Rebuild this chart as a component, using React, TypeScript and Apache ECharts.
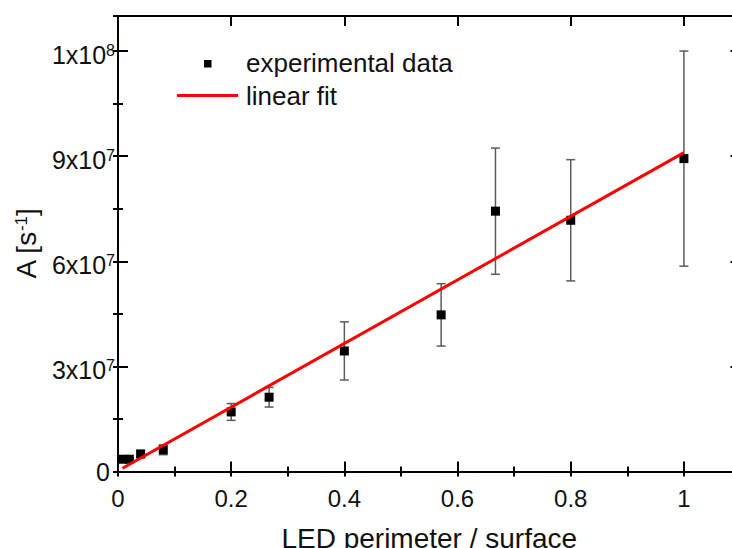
import React, { useEffect, useRef } from "react";
import * as echarts from "echarts";

// ---- data ----
const X_VALUES = [0.008, 0.02, 0.04, 0.08, 0.2, 0.267, 0.4, 0.571, 0.667, 0.8, 1.0];
const Y_VALUES = [3.5e6, 3.5e6, 5.0e6, 6.2e6, 1.7e7, 2.12e7, 3.44e7, 4.47e7, 7.43e7, 7.17e7, 8.93e7];
const Y_ERRORS = [0.5e6, 0.5e6, 1.0e6, 1.4e6, 2.4e6, 2.8e6, 8.3e6, 8.9e6, 1.8e7, 1.73e7, 3.07e7];
const FIT_X = [0.008, 1.0];
const FIT_Y = [9.3e5, 9.1e7];

const X_TICKS = [0, 0.2, 0.4, 0.6, 0.8, 1.0];
const X_TICK_LABELS = ["0", "0.2", "0.4", "0.6", "0.8", "1"];
const Y_TICKS = [0, 3e7, 6e7, 9e7, 1.2e8];
const Y_TICK_BASES = ["0", "3x10", "6x10", "9x10", "1x10"];
const Y_TICK_EXPONENTS = ["", "7", "7", "7", "8"];

const SERIES_NAMES = ["experimental data", "linear fit"];
const X_NAME = "LED perimeter / surface";

const FONT = '"Liberation Sans", Arial, Helvetica, sans-serif';
const TEXT = "#111";

export default function App() {
  const ref = useRef<HTMLDivElement>(null);

  useEffect(() => {
    if (!ref.current) return;
    const chart = echarts.init(ref.current, null, { renderer: "svg" });

    const errData = X_VALUES.map((x, i) => [x, Y_VALUES[i] - Y_ERRORS[i], Y_VALUES[i] + Y_ERRORS[i]]);
    const pts = X_VALUES.map((x, i) => [x, Y_VALUES[i]]);
    const fit = FIT_X.map((x, i) => [x, FIT_Y[i]]);

    const axisLine = { show: true, onZero: false, lineStyle: { color: "#000", width: 2 } };
    const majorTick = { show: true, inside: true, length: 10, lineStyle: { color: "#000", width: 2 } };
    const minorTick = { show: true, inside: true, length: 5, lineStyle: { color: "#000", width: 2 } };

    const xFmt = (v: number) => {
      const i = X_TICKS.findIndex((t) => Math.abs(t - v) < 1e-6);
      return i >= 0 ? X_TICK_LABELS[i] : "";
    };
    const yFmt = (v: number) => {
      const i = Y_TICKS.findIndex((t) => Math.abs(t - v) < 1);
      if (i < 0) return "";
      if (!Y_TICK_EXPONENTS[i]) return `{z|${Y_TICK_BASES[i]}}`;
      return `{b|${Y_TICK_BASES[i]}}{s|${Y_TICK_EXPONENTS[i]}}`;
    };

    const xBase = { type: "value", min: 0, max: 1.1, splitLine: { show: false } };
    const yBase = { type: "value", min: 0, max: 1.3e8, splitLine: { show: false } };

    chart.setOption({
      animation: false,
      backgroundColor: "#fff",
      textStyle: { fontFamily: FONT },
      grid: { left: 118, top: 16, right: 0.5, bottom: 76.5, containLabel: false, outerBoundsMode: "none" },
      xAxis: [
        {
          ...xBase,
          position: "bottom",
          interval: 0.2,
          axisLine,
          axisTick: majorTick,
          axisLabel: { show: true, margin: 15, fontSize: 24, color: TEXT, fontFamily: FONT, formatter: xFmt },
          name: X_NAME,
          nameLocation: "middle",
          nameGap: 53,
          nameTextStyle: { fontSize: 28, color: TEXT, fontFamily: FONT },
        },
        { ...xBase, position: "bottom", interval: 0.1, axisLine: { show: false }, axisTick: minorTick, axisLabel: { show: false } },
        { ...xBase, position: "top", interval: 0.2, axisLine, axisTick: majorTick, axisLabel: { show: false } },
        { ...xBase, position: "top", interval: 0.1, axisLine: { show: false }, axisTick: minorTick, axisLabel: { show: false } },
      ],
      yAxis: [
        {
          ...yBase,
          position: "left",
          interval: 3e7,
          axisLine,
          axisTick: majorTick,
          axisLabel: {
            show: true,
            margin: 3,
            color: TEXT,
            fontFamily: FONT,
            formatter: yFmt,
            rich: {
              b: { fontSize: 25, color: TEXT, fontFamily: FONT, padding: [8, 0, 0, 0], verticalAlign: "bottom" },
              s: { fontSize: 16, color: TEXT, fontFamily: FONT, padding: [8, 0, 0, 0], verticalAlign: "top" },
              z: { fontSize: 25, color: TEXT, fontFamily: FONT, padding: [0, 5, 0, 0] },
            },
          },
          name: "{a|A [s}{s|-1}{a|]}",
          nameLocation: "middle",
          nameGap: 78,
          nameTextStyle: {
            color: TEXT,
            fontFamily: FONT,
            rich: {
              a: { fontSize: 28, color: TEXT, fontFamily: FONT, verticalAlign: "bottom" },
              s: { fontSize: 17, color: TEXT, fontFamily: FONT, verticalAlign: "top", padding: [1, 0, 0, 0] },
            },
          },
        },
        { ...yBase, position: "left", interval: 1.5e7, axisLine: { show: false }, axisTick: minorTick, axisLabel: { show: false } },
        { ...yBase, position: "right", interval: 3e7, axisLine, axisTick: majorTick, axisLabel: { show: false } },
        { ...yBase, position: "right", interval: 1.5e7, axisLine: { show: false }, axisTick: minorTick, axisLabel: { show: false } },
      ],
      series: [
        {
          type: "custom",
          name: "error bars",
          xAxisIndex: 0,
          yAxisIndex: 0,
          z: 1,
          silent: true,
          encode: { x: 0, y: [1, 2] },
          data: errData,
          renderItem: (params: any, api: any) => {
            const x = api.value(0);
            const lo = api.coord([x, api.value(1)]);
            const hi = api.coord([x, api.value(2)]);
            const hw = 4.5;
            const style = { stroke: "#5c5c5c", lineWidth: 1.5, fill: null };
            return {
              type: "group",
              children: [
                { type: "line", shape: { x1: hi[0], y1: hi[1], x2: lo[0], y2: lo[1] }, style },
                { type: "line", shape: { x1: hi[0] - hw, y1: hi[1], x2: hi[0] + hw, y2: hi[1] }, style },
                { type: "line", shape: { x1: lo[0] - hw, y1: lo[1], x2: lo[0] + hw, y2: lo[1] }, style },
              ],
            };
          },
        },
        {
          type: "scatter",
          name: SERIES_NAMES[0],
          xAxisIndex: 0,
          yAxisIndex: 0,
          z: 2,
          symbol: "rect",
          symbolSize: 9,
          itemStyle: { color: "#000", opacity: 1 },
          data: pts,
        },
        {
          type: "line",
          name: SERIES_NAMES[1],
          xAxisIndex: 0,
          yAxisIndex: 0,
          z: 3,
          showSymbol: false,
          symbol: "none",
          lineStyle: { color: "#ff0000", width: 3 },
          data: fit,
        },
      ],
      graphic: [
        { type: "rect", shape: { x: 204, y: 60, width: 7.5, height: 7.5 }, style: { fill: "#000" }, z: 10 },
        {
          type: "text",
          x: 246,
          y: 63,
          style: { text: SERIES_NAMES[0], fontSize: 26, fontFamily: FONT, fill: TEXT, verticalAlign: "middle", align: "left" },
          z: 10,
        },
        { type: "line", shape: { x1: 177, y1: 95.5, x2: 238, y2: 95.5 }, style: { stroke: "#ff0000", lineWidth: 3 }, z: 10 },
        {
          type: "text",
          x: 246,
          y: 96,
          style: { text: SERIES_NAMES[1], fontSize: 26, fontFamily: FONT, fill: TEXT, verticalAlign: "middle", align: "left" },
          z: 10,
        },
      ],
    });

    return () => chart.dispose();
  }, []);

  return (
    <div style={{ position: "fixed", left: 0, top: 0, width: 732, height: 548, overflow: "hidden", background: "#fff" }}>
      <div ref={ref} style={{ width: 741, height: 548 }} />
    </div>
  );
}
